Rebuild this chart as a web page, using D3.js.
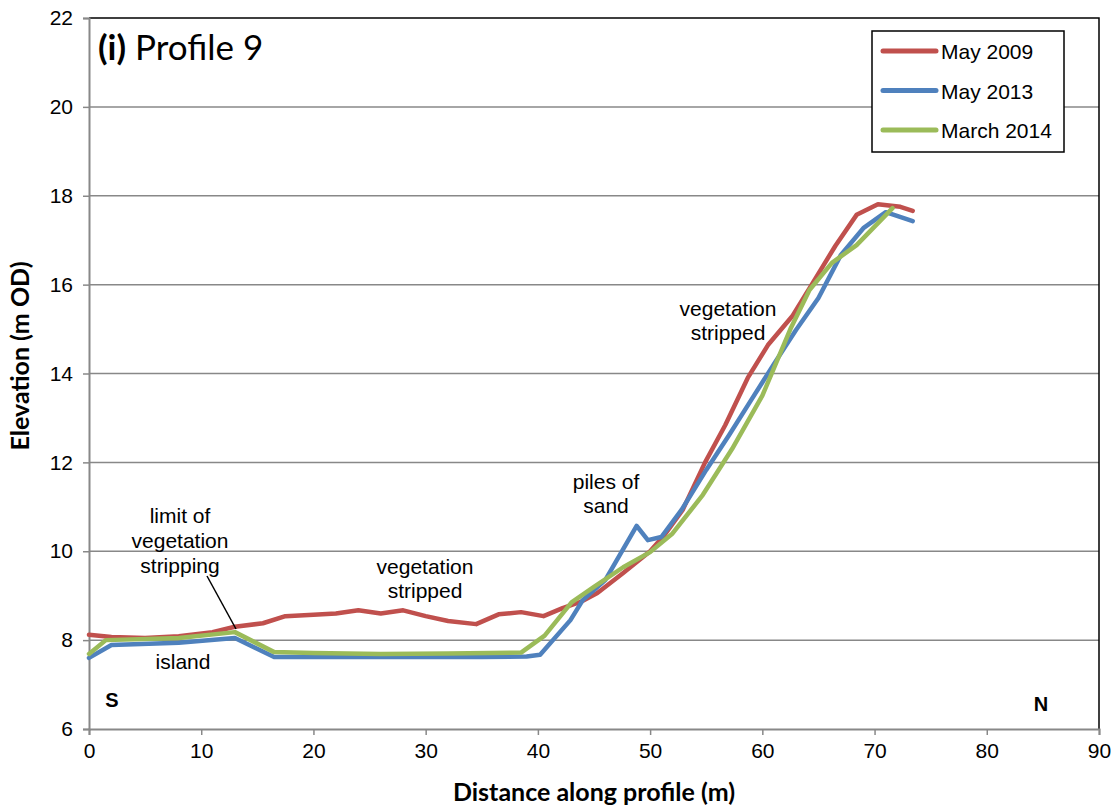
<!DOCTYPE html>
<html><head><meta charset="utf-8">
<script src="https://cdn.jsdelivr.net/npm/d3@7"></script>
<style>body{margin:0;background:#fff}</style>
</head><body>
<svg id="c" width="1118" height="809"></svg>
<script>
const seriesNames = ["May 2009","May 2013","March 2014"];
const seriesColors = ["#C0504D","#4F81BD","#9BBB59"];
const may2009 = [[0,8.12],[2,8.07],[5,8.05],[8,8.09],[11,8.18],[13,8.3],[15.5,8.38],[17.5,8.54],[20,8.57],[22,8.6],[24,8.67],[26,8.6],[28,8.67],[30,8.54],[32,8.43],[34.5,8.36],[36.5,8.58],[38.5,8.63],[40.5,8.54],[42.2,8.72],[43.8,8.86],[45.3,9.06],[47.6,9.51],[50,10.0],[51.3,10.37],[52.9,10.93],[54.9,12.0],[56.7,12.84],[58.7,13.9],[60.5,14.64],[62.7,15.3],[64.4,16.0],[66.5,16.87],[68.4,17.57],[70.3,17.81],[72.3,17.75],[73.4,17.66]];
const may2013 = [[0,7.6],[2,7.89],[8,7.94],[13,8.05],[16.5,7.62],[20,7.62],[25,7.62],[30,7.62],[35,7.62],[39,7.63],[40.2,7.67],[42.9,8.45],[44,8.9],[46,9.35],[48.8,10.57],[49.8,10.25],[51,10.32],[52.8,10.93],[55,11.83],[57,12.6],[59,13.4],[61,14.2],[63,14.98],[65,15.7],[67,16.67],[69,17.27],[71,17.63],[73.4,17.43]];
const march2014 = [[0,7.69],[1.5,8.0],[8,8.05],[13,8.18],[16.5,7.73],[20,7.71],[26,7.69],[32,7.7],[38.5,7.72],[40.6,8.1],[43,8.85],[45,9.2],[47.6,9.64],[50,9.98],[52,10.4],[54.7,11.27],[57.3,12.3],[60,13.5],[62.5,15.0],[64.2,15.88],[66.2,16.49],[68.4,16.89],[71.6,17.72]];
const xTicks = [0,10,20,30,40,50,60,70,80,90];
const yTicks = [6,8,10,12,14,16,18,20,22];
const allSeries = [may2009, may2013, march2014];

const svg = d3.select("#c");
const L=89, R=1099, T=18, B=729;
const x = d3.scaleLinear().domain([0,90]).range([L,R]);
const y = d3.scaleLinear().domain([6,22]).range([B,T]);
const sans = "'Liberation Sans', Arial, sans-serif";
const cal = "Lato, 'Open Sans', sans-serif";
const FS = 21;

svg.append("g").selectAll("line").data(yTicks.filter(v=>v>6&&v<22)).join("line")
  .attr("x1",L).attr("x2",R).attr("y1",d=>y(d)).attr("y2",d=>y(d))
  .attr("stroke","#888").attr("stroke-width",1.5);
svg.append("path").attr("d",`M${L},${T}H${R}V${B}`).attr("fill","none").attr("stroke","#000").attr("stroke-width",1.5);

const xAxis = svg.append("g").attr("transform",`translate(0,${B})`)
  .call(d3.axisBottom(x).tickValues(xTicks).tickSize(6).tickPadding(8));
const yAxis = svg.append("g").attr("transform",`translate(${L},0)`)
  .call(d3.axisLeft(y).tickValues(yTicks).tickSize(6).tickPadding(10));
[xAxis,yAxis].forEach(a=>{
  a.select(".domain").attr("stroke","#888").attr("stroke-width",2);
  a.selectAll(".tick line").attr("stroke","#888").attr("stroke-width",1.5);
  a.selectAll(".tick text").attr("font-family",sans).attr("font-size",FS).attr("fill","#000");
});

const line = d3.line().x(d=>x(d[0])).y(d=>y(d[1]));
allSeries.forEach((s,i)=>{
  svg.append("path").datum(s).attr("d",line).attr("fill","none")
    .attr("stroke",seriesColors[i]).attr("stroke-width",4.5).attr("stroke-linejoin","round").attr("stroke-linecap","round");
});

const lg = svg.append("g");
lg.append("rect").attr("x",872).attr("y",31).attr("width",192).attr("height",121).attr("fill","#fff").attr("stroke","#000").attr("stroke-width",1.5);
seriesNames.forEach((n,i)=>{
  const yy = 51 + i*39.5;
  lg.append("line").attr("x1",883).attr("x2",936).attr("y1",yy).attr("y2",yy).attr("stroke",seriesColors[i]).attr("stroke-width",5).attr("stroke-linecap","round");
  lg.append("text").attr("x",941).attr("y",yy+8).text(n).attr("font-family",sans).attr("font-size",FS);
});

function ml(lines, cx, y0, dy){
  const t = svg.append("text").attr("text-anchor","middle").attr("font-family",sans).attr("font-size",FS);
  lines.forEach((l,i)=>t.append("tspan").attr("x",cx).attr("y",y0+i*dy).text(l));
}
ml(["limit of","vegetation","stripping"],180,523,25);
ml(["island"],183,669,25);
ml(["vegetation","stripped"],425,574,24);
ml(["piles of","sand"],606,489,24);
ml(["vegetation","stripped"],728,316,24);
svg.append("line").attr("x1",207).attr("y1",576).attr("x2",236).attr("y2",629).attr("stroke","#000").attr("stroke-width",1.5);
svg.append("text").attr("x",112).attr("y",707).attr("text-anchor","middle").attr("font-family",sans).attr("font-weight","bold").attr("font-size",FS-1).text("S");
svg.append("text").attr("x",1041).attr("y",711).attr("text-anchor","middle").attr("font-family",sans).attr("font-weight","bold").attr("font-size",FS-1).text("N");

const title = svg.append("text").attr("x",98).attr("y",60).attr("font-family",cal).attr("font-size",35);
title.append("tspan").attr("font-weight","bold").text("(i)");
title.append("tspan").text(" Profile 9");

svg.append("text").attr("x",594).attr("y",801).attr("text-anchor","middle").attr("font-family",cal).attr("font-weight","bold").attr("font-size",25).text("Distance along profile (m)");
svg.append("text").attr("transform","translate(29,356) rotate(-90)").attr("text-anchor","middle").attr("font-family",cal).attr("font-weight","bold").attr("font-size",25).text("Elevation (m OD)");
</script>
</body></html>
